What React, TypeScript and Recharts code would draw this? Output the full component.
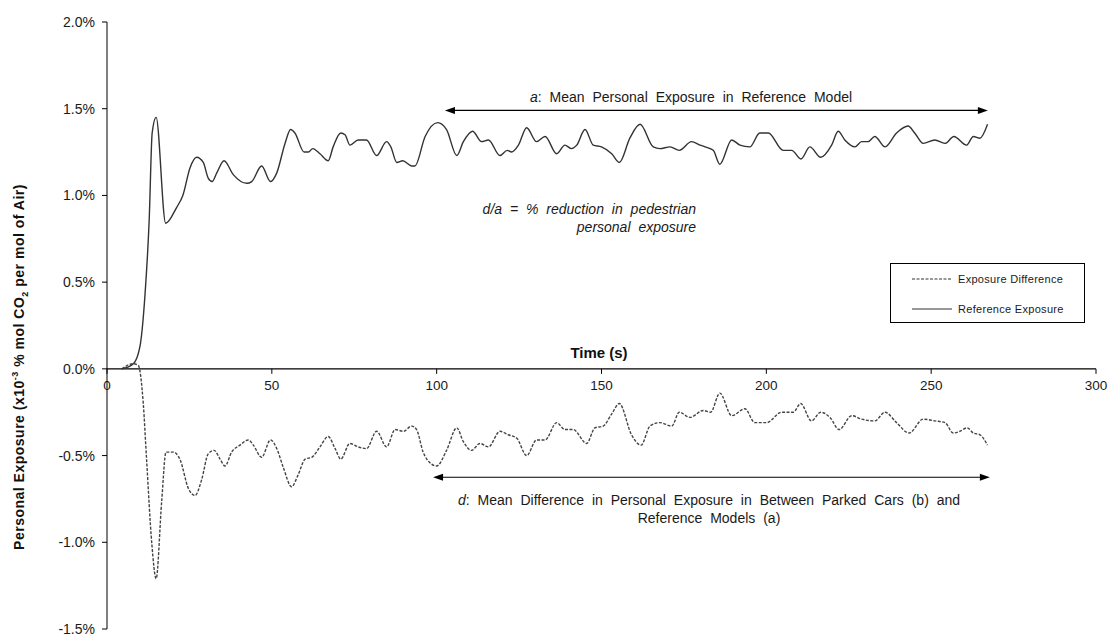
import { LineChart, Line, XAxis, YAxis, ReferenceLine } from 'recharts'

// Reference exposure (solid) - time (s) and value (%)
const refTime = [
  4.5, 8, 10, 11.5, 12.8, 13.7, 14.9, 17.8, 21.1, 23,
  25.2, 27.2, 29.2, 30.7, 31.9, 33.3, 35.5, 38.3, 42.4, 43.9,
  46.9, 49.6, 51.5, 54, 55.7, 57, 59.8, 61.1, 62.4, 64.6,
  67.1, 68.6, 70.9, 72.2, 73.7, 76.2, 78.7, 81.8, 84.8, 86.1,
  87.9, 89.7, 92.4, 93.4, 96.5, 100.3, 103, 106.1, 108.1, 110.9,
  113.6, 115.7, 119.2, 121.4, 122.7, 124.8, 127.3, 130.3, 132.9, 136.4,
  138.9, 140.9, 142.5, 145, 147.5, 150, 153.1, 155.4, 158.6, 161.7,
  165.7, 167.7, 170.8, 173.6, 177.3, 179.9, 181.4, 183.9, 185.9, 189.5,
  192, 195, 198, 200.6, 205.1, 207.7, 210.5, 213.2, 216.5, 219.8,
  221.8, 223.8, 226.9, 228.9, 230.9, 232.9, 236, 239.5, 243, 245,
  247.6, 251.1, 254.2, 256.9, 260.7, 262.8, 264.8, 267.1,
]
const refValue = [
  0, 0.03, 0.13, 0.42, 0.86, 1.36, 1.45, 0.84, 0.93, 1.0,
  1.16, 1.22, 1.19, 1.1, 1.08, 1.13, 1.2, 1.12, 1.07, 1.08,
  1.17, 1.08, 1.13, 1.3, 1.38, 1.36, 1.25, 1.25, 1.27, 1.24,
  1.2, 1.28, 1.36, 1.35, 1.29, 1.32, 1.32, 1.23, 1.31, 1.28,
  1.19, 1.2, 1.17, 1.17, 1.34, 1.42, 1.38, 1.23, 1.31, 1.37,
  1.31, 1.32, 1.23, 1.26, 1.25, 1.29, 1.39, 1.31, 1.34, 1.24,
  1.29, 1.27, 1.29, 1.38, 1.29, 1.28, 1.24, 1.19, 1.33, 1.41,
  1.28, 1.27, 1.28, 1.26, 1.31, 1.29, 1.28, 1.26, 1.18, 1.32,
  1.29, 1.28, 1.36, 1.36, 1.26, 1.26, 1.21, 1.28, 1.22, 1.29,
  1.37, 1.32, 1.28, 1.31, 1.31, 1.34, 1.28, 1.36, 1.4, 1.36,
  1.3, 1.32, 1.3, 1.34, 1.29, 1.34, 1.33, 1.41,
]

// Exposure difference (dashed)
const diffTime = [
  4.5, 8, 9.5, 11, 12, 13.6, 14.9, 16.6, 17.9, 20.1,
  22.1, 24.7, 26.7, 28.7, 30.7, 32.5, 34.3, 35.8, 37.8, 40.3,
  42.9, 44.4, 46.9, 49.6, 51.5, 53.5, 56, 58, 60.1, 62.1,
  64.6, 67.1, 69.2, 70.9, 73.7, 76.2, 78.7, 81.8, 84.8, 87.4,
  89.9, 92.4, 93.9, 95.9, 97, 100, 103, 106.1, 108.1, 110.6,
  113.1, 115.7, 119.2, 121.7, 124.3, 127.3, 130.3, 132.9, 136.4, 138.9,
  141.4, 145.5, 148, 150.5, 153.1, 155.4, 159.1, 162, 164.7, 167.7,
  171.3, 173.6, 176.8, 180.9, 183.1, 185.9, 189.5, 193.5, 196.5, 200.1,
  204.6, 208.2, 210.4, 213.7, 216.5, 219.3, 222.1, 225.9, 228.9, 232.9,
  236, 239.5, 243.3, 247.6, 251.1, 254.2, 256.7, 258.7, 260.9, 262.8,
  264.8, 267.1,
]
const diffValue = [
  0, 0.03, 0.02, -0.2, -0.52, -1.01, -1.21, -0.76, -0.48, -0.48,
  -0.52, -0.69, -0.73, -0.64, -0.49, -0.47, -0.52, -0.56, -0.48, -0.44,
  -0.41, -0.44, -0.51, -0.41, -0.46, -0.57, -0.68, -0.61, -0.52, -0.51,
  -0.45, -0.39, -0.46, -0.52, -0.43, -0.45, -0.46, -0.36, -0.45, -0.35,
  -0.36, -0.33, -0.35, -0.48, -0.52, -0.56, -0.47, -0.34, -0.42, -0.47,
  -0.43, -0.45, -0.36, -0.38, -0.4, -0.5, -0.41, -0.41, -0.31, -0.35,
  -0.35, -0.43, -0.34, -0.33, -0.26, -0.2, -0.38, -0.44, -0.33, -0.31,
  -0.33, -0.25, -0.28, -0.24, -0.25, -0.14, -0.27, -0.23, -0.31, -0.31,
  -0.25, -0.25, -0.2, -0.3, -0.25, -0.28, -0.35, -0.27, -0.29, -0.3,
  -0.25, -0.31, -0.37, -0.29, -0.3, -0.31, -0.37, -0.36, -0.34, -0.37,
  -0.38, -0.44,
]

const xTicks = [0, 50, 100, 150, 200, 250, 300]
const yTicks = [-1.5, -1, -0.5, 0, 0.5, 1, 1.5, 2]

// annotation arrows (time range, level)
const arrowA = { from: 102.5, to: 267.2, y: 1.49 }
const arrowD = { from: 98.9, to: 267.8, y: -0.625 }

const FONT = '"Liberation Sans", Arial, sans-serif'
const INK = '#1a1a1a'

const refData = refTime.map((t, i) => ({ t, v: refValue[i] }))
const diffData = diffTime.map((t, i) => ({ t, v: diffValue[i] }))

const YTick = ({ x, y, payload }: any) => (
  <text x={x} y={y} dy={5} textAnchor="end" fontSize={14} fontFamily={FONT} fill={INK}>
    {`${Number(payload.value).toFixed(1)}%`}
  </text>
)

const xTickShape = (t: number) => (p: any) => (
  <g>
    <line x1={p.x1} y1={p.y1} x2={p.x1} y2={p.y1 + 5} stroke="#000" strokeWidth={1} />
    <text x={p.x1} y={p.y1 + 21} textAnchor="middle" fontSize={13.5} fontFamily={FONT} fill={INK}>
      {t}
    </text>
  </g>
)

const ArrowShape = (p: any) => {
  const { x1, y1, x2, y2 } = p
  const h = 10
  const w = 3.5
  return (
    <g>
      <line x1={x1 + h - 1} y1={y1} x2={x2 - h + 1} y2={y2} stroke="#000" strokeWidth={1.2} />
      <polygon points={`${x1},${y1} ${x1 + h},${y1 - w} ${x1 + h},${y1 + w}`} fill="#000" />
      <polygon points={`${x2},${y2} ${x2 - h},${y2 - w} ${x2 - h},${y2 + w}`} fill="#000" />
    </g>
  )
}

const txt: React.CSSProperties = {
  position: 'absolute',
  whiteSpace: 'nowrap',
  fontFamily: FONT,
  color: INK,
  fontSize: 14,
  lineHeight: '18px',
}

export default function App() {
  return (
    <div style={{ position: 'relative', width: 1110, height: 637, background: '#fff' }}>
      <style>{`body{margin:0}`}</style>
      <LineChart width={1110} height={637} margin={{ top: 22, right: 14, bottom: 8, left: 0 }}>
        <XAxis type="number" dataKey="t" domain={[0, 300]} ticks={xTicks} hide />
        <YAxis
          type="number"
          domain={[-1.5, 2]}
          ticks={yTicks}
          width={107}
          tickSize={5}
          tickMargin={7}
          axisLine={{ stroke: '#000' }}
          tickLine={{ stroke: '#000' }}
          tick={<YTick />}
          interval={0}
        />
        <ReferenceLine y={0} stroke="#000" strokeWidth={1.2} />
        {xTicks.map((t) => (
          <ReferenceLine
            key={t}
            segment={[{ x: t, y: 0 }, { x: t, y: -0.01 }]}
            shape={xTickShape(t)}
          />
        ))}
        <ReferenceLine
          segment={[{ x: arrowA.from, y: arrowA.y }, { x: arrowA.to, y: arrowA.y }]}
          shape={ArrowShape}
        />
        <ReferenceLine
          segment={[{ x: arrowD.from, y: arrowD.y }, { x: arrowD.to, y: arrowD.y }]}
          shape={ArrowShape}
        />
        <Line
          data={diffData}
          dataKey="v"
          name="Exposure Difference"
          type="monotone"
          stroke="#444"
          strokeWidth={1.4}
          strokeDasharray="3 1.5"
          dot={false}
          isAnimationActive={false}
        />
        <Line
          data={refData}
          dataKey="v"
          name="Reference Exposure"
          type="monotone"
          stroke="#333"
          strokeWidth={1.4}
          dot={false}
          isAnimationActive={false}
        />
      </LineChart>

      {/* y axis title */}
      <div
        style={{
          ...txt,
          left: 20,
          top: 367,
          fontWeight: 'bold',
          color: '#111',
          letterSpacing: 0.5,
          transform: 'translate(-50%, -50%) rotate(-90deg)',
        }}
      >
        Personal Exposure (x10<sup style={{ fontSize: 9 }}>-3</sup> % mol CO<sub style={{ fontSize: 9 }}>2</sub> per mol of Air)
      </div>

      {/* x axis title */}
      <div style={{ ...txt, left: 599, top: 344, fontWeight: 'bold', color: '#111', fontSize: 15, transform: 'translateX(-50%)' }}>
        Time (s)
      </div>

      <div style={{ ...txt, left: 530, top: 88, wordSpacing: 4 }}>
        <i>a</i>: Mean Personal Exposure in Reference Model
      </div>

      <div style={{ ...txt, right: 1110 - 696, top: 200, fontStyle: 'italic', textAlign: 'right', wordSpacing: 4 }}>
        d/a = % reduction in pedestrian
        <br />
        personal exposure
      </div>

      <div style={{ ...txt, left: 709, top: 491, textAlign: 'center', transform: 'translateX(-50%)', wordSpacing: 4 }}>
        <i>d</i>: Mean Difference in Personal Exposure in Between Parked Cars (b) and
        <br />
        Reference Models (a)
      </div>

      {/* legend */}
      <div
        style={{
          position: 'absolute',
          left: 890,
          top: 263,
          width: 193,
          height: 58,
          border: '1px solid #000',
          fontFamily: FONT,
          fontSize: 11,
          color: INK,
        }}
      >
        {[
          { name: 'Exposure Difference', dash: '3 1.5', top: 8 },
          { name: 'Reference Exposure', dash: undefined, top: 38 },
        ].map((e) => (
          <div key={e.name} style={{ position: 'absolute', left: 21, top: e.top, display: 'flex', alignItems: 'center', whiteSpace: 'nowrap' }}>
            <svg width={42} height={14}>
              <line x1={0} y1={7} x2={40} y2={7} stroke="#333" strokeWidth={1.2} strokeDasharray={e.dash} />
            </svg>
            <span style={{ marginLeft: 4, letterSpacing: 0.3 }}>{e.name}</span>
          </div>
        ))}
      </div>
    </div>
  )
}
